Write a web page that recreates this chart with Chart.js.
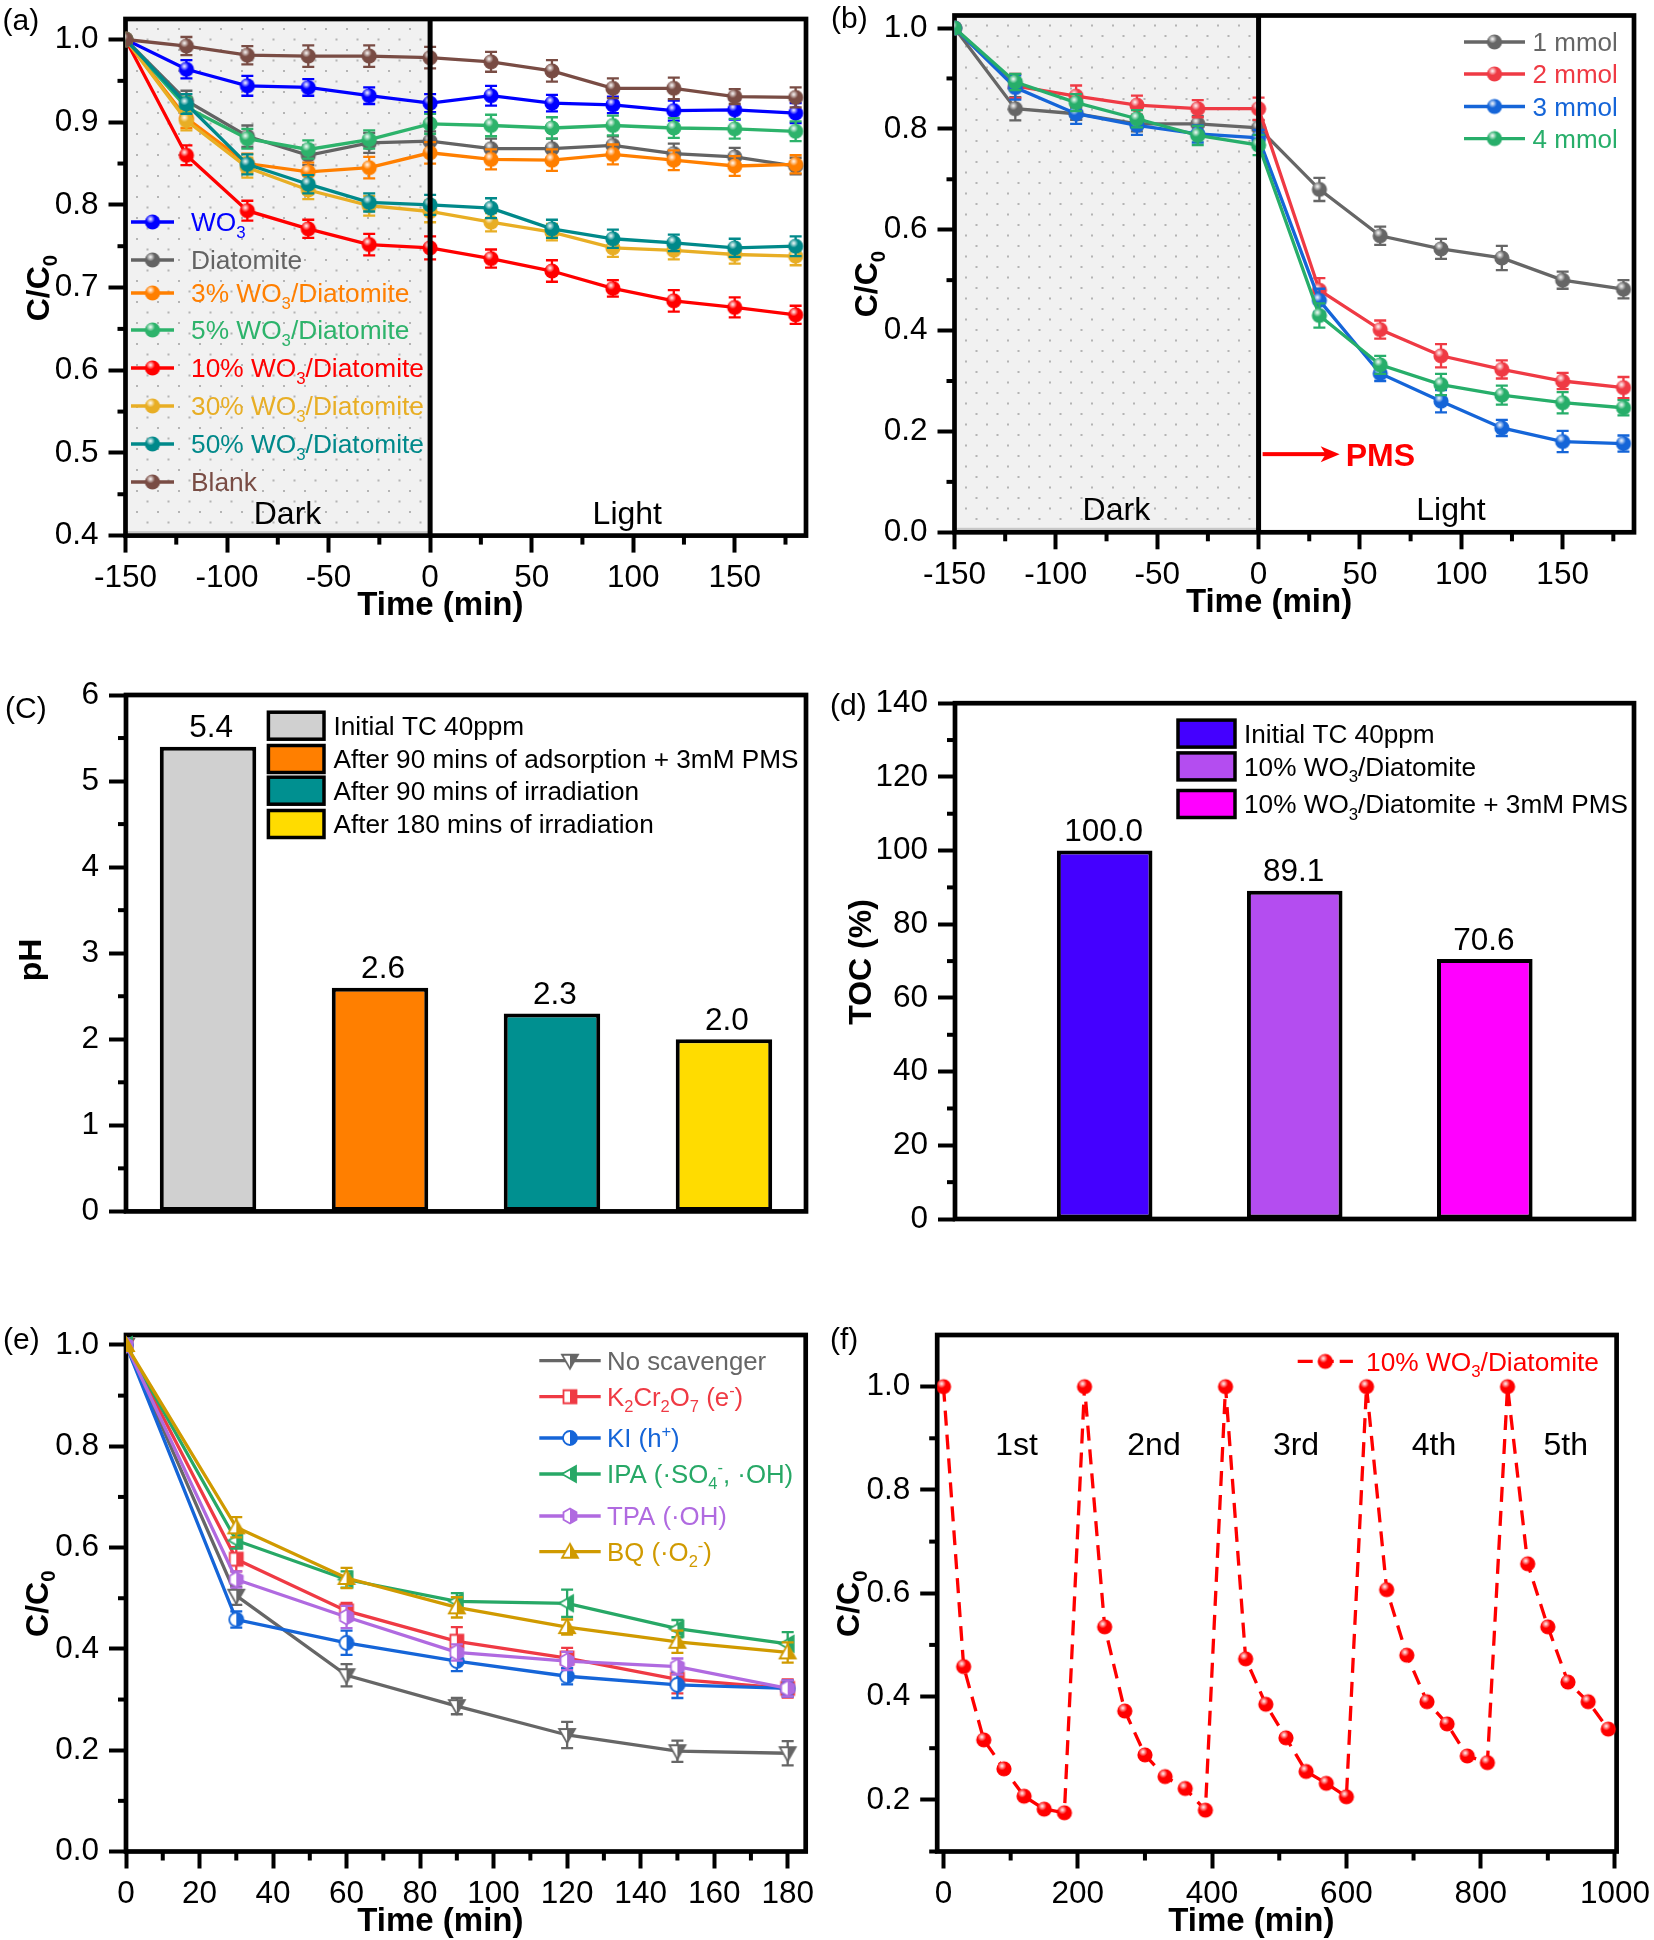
<!DOCTYPE html>
<html lang="en">

<head>
  <meta charset="UTF-8">
  <title>WO3/Diatomite degradation</title>
  <script src="https://cdn.jsdelivr.net/npm/chart.js@4"></script>
  <style>
    html, body { margin: 0; padding: 0; background: #fff; overflow: hidden; width: 1654px; height: 1940px; }
    canvas { position: absolute; display: block; }
  </style>
</head>

<body>
  <canvas id="chartA"></canvas>
  <canvas id="chartB"></canvas>
  <canvas id="chartC"></canvas>
  <canvas id="chartD"></canvas>
  <canvas id="chartE"></canvas>
  <canvas id="chartF"></canvas>

  <script>
    // ---- data ----
    const timeAB = [-150, -120, -90, -60, -30, 0, 30, 60, 90, 120, 150, 180];
    const timeE = [0, 30, 60, 90, 120, 150, 180];
    const timeF = [0, 30, 60, 90, 120, 150, 180, 210, 240, 270, 300, 330, 360, 390, 420, 450, 480, 510, 540, 570, 600, 630, 660, 690, 720, 750, 780, 810, 840, 870, 900, 930, 960, 990];

    const namesA = ['WO_{3}', 'Diatomite', '3% WO_{3}/Diatomite', '5% WO_{3}/Diatomite', '10% WO_{3}/Diatomite', '30% WO_{3}/Diatomite', '50% WO_{3}/Diatomite', 'Blank'];
    const colorsA = ['#0000ff', '#636363', '#ff7f00', '#2db36b', '#ff0000', '#e8ae25', '#00898a', '#794c44'];
    const wo3 = [1.0, .964, .944, .942, .932, .923, .932, .923, .921, .914, .915, .911];
    const diatomite = [1.0, .926, .883, .860, .875, .877, .868, .868, .872, .862, .858, .847];
    const wo3_3 = [1.0, .905, .850, .840, .845, .863, .855, .854, .861, .854, .847, .849];
    const wo3_5 = [1.0, .918, .880, .867, .879, .898, .896, .893, .896, .893, .892, .889];
    const wo3_10 = [1.0, .860, .793, .771, .752, .748, .735, .720, .699, .684, .676, .667];
    const wo3_30 = [1.0, .902, .845, .818, .799, .792, .779, .767, .748, .745, .740, .738];
    const wo3_50 = [1.0, .922, .849, .825, .803, .800, .796, .771, .759, .754, .748, .750];
    const blank = [1.0, .992, .981, .980, .980, .978, .973, .962, .941, .941, .931, .930];
    const errWo3 = [0, .011, .012, .010, .010, .011, .012, .010, .010, .012, .012, .012];
    const errDia = [0, .012, .013, .012, .012, .012, .012, .012, .011, .012, .011, .010];
    const err3 = [0, .012, .012, .011, .013, .013, .012, .013, .012, .012, .012, .011];
    const err5 = [0, .012, .012, .011, .011, .012, .013, .013, .012, .012, .012, .012];
    const err10 = [0, .012, .012, .011, .013, .014, .011, .013, .010, .013, .012, .011];
    const err30 = [0, .012, .012, .011, .012, .013, .011, .010, .011, .011, .011, .011];
    const err50 = [0, .012, .012, .011, .011, .012, .012, .011, .011, .010, .011, .012];
    const errBlank = [0, .011, .011, .013, .013, .013, .012, .013, .012, .013, .009, .012];

    const namesB = ['1 mmol', '2 mmol', '3 mmol', '4 mmol'];
    const colorsB = ['#666666', '#ef3a44', '#1565d8', '#27ae6a'];
    const mmol1 = [1.0, .840, .830, .810, .810, .802, .680, .588, .562, .544, .500, .482];
    const mmol2 = [1.0, .885, .865, .847, .840, .840, .480, .402, .350, .323, .300, .287];
    const mmol3 = [1.0, .882, .830, .807, .790, .782, .460, .315, .260, .207, .180, .176];
    const mmol4 = [1.0, .893, .852, .820, .787, .768, .430, .332, .293, .272, .257, .247];
    const errM1 = [0, .023, .012, .015, .015, .015, .023, .018, .020, .024, .017, .018];
    const errM2 = [0, .024, .021, .019, .017, .022, .024, .018, .023, .018, .016, .021];
    const errM3 = [0, .024, .020, .019, .017, .016, .023, .015, .022, .016, .021, .016];
    const errM4 = [0, .016, .017, .017, .019, .020, .024, .018, .021, .019, .021, .015];

    const namesC = ['Initial TC 40ppm', 'After 90 mins of adsorption + 3mM PMS', 'After 90 mins of irradiation', 'After 180 mins of irradiation'];
    const colorsC = ['#d0d0d0', '#ff7f00', '#009090', '#ffdc00'];
    const phValues = [5.4, 2.6, 2.3, 2.0];

    const namesD = ['Initial TC 40ppm', '10% WO_{3}/Diatomite', '10% WO_{3}/Diatomite + 3mM PMS'];
    const colorsD = ['#4400ff', '#b44df0', '#ff00ff'];
    const tocValues = [100.0, 89.1, 70.6];

    const namesE = ['No scavenger', 'K_{2}Cr_{2}O_{7} (e^{-})', 'KI (h^{+})', 'IPA (·SO_{4}^{-}, ·OH)', 'TPA (·OH)', 'BQ (·O_{2}^{-})'];
    const colorsE = ['#666666', '#ef3a44', '#1565d8', '#27a866', '#b06ae0', '#d09a00'];
    const shapesE = ['down', 'square', 'circle', 'left', 'hexagon', 'up'];
    const noScav = [1.0, .505, .348, .287, .230, .198, .194];
    const k2cr2o7 = [1.0, .577, .475, .415, .382, .340, .322];
    const ki = [1.0, .458, .412, .376, .346, .329, .322];
    const ipa = [1.0, .614, .537, .494, .490, .440, .410];
    const tpa = [1.0, .537, .463, .393, .376, .365, .322];
    const bq = [1.0, .640, .540, .482, .443, .414, .393];
    const errNo = [0, .018, .022, .016, .026, .021, .024];
    const errK = [0, .024, .016, .028, .020, .028, .018];
    const errKi = [0, .016, .024, .020, .016, .026, .016];
    const errIpa = [0, .016, .016, .016, .027, .017, .023];
    const errTpa = [0, .016, .022, .016, .018, .016, .016];
    const errBq = [0, .020, .020, .020, .015, .022, .020];

    const nameF = '10% WO_{3}/Diatomite';
    const colorF = '#ff0000';
    const cycles = [1.0, .458, .316, .260, .207, .182, .175, 1.0, .535, .372, .287, .245, .222, .180, 1.0, .473, .385, .320, .255, .232, .206, 1.0, .607, .480, .390, .347, .285, .272, 1.0, .657, .535, .428, .390, .337];
    const cycleNames = ['1st', '2nd', '3rd', '4th', '5th'];

    const xTicksAB = [-150, -100, -50, 0, 50, 100, 150];
    const xMinorAB = [-125, -75, -25, 25, 75, 125, 175];
    const yTicksA = [.4, .5, .6, .7, .8, .9, 1.0];
    const yMinorA = [.45, .55, .65, .75, .85, .95];
    const yTicksC = [.0, .2, .4, .6, .8, 1.0];
    const yMinorC = [.1, .3, .5, .7, .9];
    const phTicks = [0, 1, 2, 3, 4, 5, 6];
    const phMinor = [.5, 1.5, 2.5, 3.5, 4.5, 5.5];
    const tocTicks = [0, 20, 40, 60, 80, 100, 120, 140];
    const tocMinor = [10, 30, 50, 70, 90, 110, 130];
    const xTicksE = [0, 20, 40, 60, 80, 100, 120, 140, 160, 180];
    const xMinorE = [10, 30, 50, 70, 90, 110, 130, 150, 170];
    const xTicksF = [0, 200, 400, 600, 800, 1000];
    const xMinorF = [100, 300, 500, 700, 900];
    const yTicksF = [.2, .4, .6, .8, 1.0];
    const yMinorF = [.1, .3, .5, .7, .9];

    // ---- drawing helpers ----
    const FONT = '"Liberation Sans", Arial, sans-serif';

    function fontOf(size, bold) {
      return (bold ? 'bold ' : '') + size + 'px ' + FONT;
    }

    // splits "WO_{3}" into plain / sub / sup runs
    function parseRuns(str) {
      const runs = [];
      const re = /([_^])\{([^}]*)\}/g;
      let last = 0, m;
      while ((m = re.exec(str))) {
        if (m.index > last) runs.push({ t: str.slice(last, m.index), k: '' });
        runs.push({ t: m[2], k: m[1] });
        last = re.lastIndex;
      }
      if (last < str.length) runs.push({ t: str.slice(last), k: '' });
      return runs;
    }

    function richWidth(ctx, str, size, bold) {
      let w = 0;
      parseRuns(str).forEach(r => {
        ctx.font = fontOf(r.k ? size * .64 : size, bold);
        w += ctx.measureText(r.t).width;
      });
      return w;
    }

    // x is the left edge, y the vertical middle of the text
    function richText(ctx, str, x, y, size, color, bold) {
      ctx.save();
      ctx.fillStyle = color;
      ctx.textAlign = 'left';
      ctx.textBaseline = 'alphabetic';
      const base = y + size * .36;
      parseRuns(str).forEach(r => {
        ctx.font = fontOf(r.k ? size * .64 : size, bold);
        let dy = 0;
        if (r.k === '_') dy = size * .24;
        if (r.k === '^') dy = -size * .38;
        ctx.fillText(r.t, x, base + dy);
        x += ctx.measureText(r.t).width;
      });
      ctx.restore();
    }

    function centerText(ctx, str, cx, cy, size, color, bold) {
      richText(ctx, str, cx - richWidth(ctx, str, size, bold) / 2, cy, size, color, bold);
    }

    function rotatedText(ctx, str, cx, cy, size, bold) {
      ctx.save();
      ctx.translate(cx, cy);
      ctx.rotate(-Math.PI / 2);
      centerText(ctx, str, 0, 0, size, '#000', bold);
      ctx.restore();
    }

    function ball(color) {
      const c = document.createElement('canvas');
      c.width = c.height = 18;
      const g = c.getContext('2d');
      g.beginPath();
      g.arc(9, 9, 7.6, 0, Math.PI * 2);
      g.fillStyle = color;
      g.fill();
      const hi = g.createRadialGradient(7, 6, .4, 7, 6, 4.4);
      hi.addColorStop(0, 'rgba(255,255,255,.9)');
      hi.addColorStop(1, 'rgba(255,255,255,0)');
      g.fillStyle = hi;
      g.fill();
      return c;
    }

    function halfMark(shape, color) {
      const c = document.createElement('canvas');
      c.width = c.height = 24;
      const g = c.getContext('2d');
      const m = 12;
      g.beginPath();
      if (shape === 'square') g.rect(m - 6.5, m - 6.5, 13, 13);
      if (shape === 'circle') g.arc(m, m, 7, 0, Math.PI * 2);
      if (shape === 'down') { g.moveTo(m - 8, m - 6); g.lineTo(m + 8, m - 6); g.lineTo(m, m + 8); g.closePath(); }
      if (shape === 'up') { g.moveTo(m - 8, m + 6); g.lineTo(m + 8, m + 6); g.lineTo(m, m - 8); g.closePath(); }
      if (shape === 'left') { g.moveTo(m - 8, m); g.lineTo(m + 6, m - 8); g.lineTo(m + 6, m + 8); g.closePath(); }
      if (shape === 'hexagon') {
        g.moveTo(m, m - 7.5); g.lineTo(m + 6.5, m - 3.8); g.lineTo(m + 6.5, m + 3.8);
        g.lineTo(m, m + 7.5); g.lineTo(m - 6.5, m + 3.8); g.lineTo(m - 6.5, m - 3.8); g.closePath();
      }
      g.fillStyle = '#fff';
      g.fill();
      g.save();
      g.clip();
      g.fillStyle = color;
      g.fillRect(m, 0, m, 24);
      g.restore();
      g.strokeStyle = color;
      g.lineWidth = 1.8;
      g.stroke();
      return c;
    }

    // Chart.js paints the first dataset last, the figure is the other way round
    function lineSet(xs, ys, errs, color, marker, index, dash) {
      return {
        data: xs.map((x, i) => ({ x: x, y: ys[i] })),
        errs: errs,
        order: 20 - index,
        borderColor: color,
        backgroundColor: color,
        borderWidth: 3.3,
        borderDash: dash || [],
        pointStyle: marker,
        pointRadius: 8,
        tension: 0
      };
    }

    // everything Chart.js has no option for: frame, minor ticks, error bars, legends, labels
    function decorPlugin(p) {
      return {
        id: 'decor',
        beforeDatasetsDraw(chart) {
          const ctx = chart.ctx, a = chart.chartArea, x = chart.scales.x, y = chart.scales.y;
          if (p.darkTo !== undefined) {
            const xr = x.getPixelForValue(p.darkTo);
            ctx.fillStyle = '#f1f1f1';
            ctx.fillRect(a.left, a.top, xr - a.left, a.bottom - a.top);
            ctx.fillStyle = '#b4b4b4';
            let row = 0;
            for (let py = a.top + 9; py < a.bottom - 5; py += 10.5) {
              for (let px = a.left + (row % 2 ? 21 : 10.5); px < xr - 3; px += 21) {
                ctx.fillRect(px, py, 2, 2);
              }
              row++;
            }
            ctx.fillStyle = '#c8c8c8';
            ctx.fillRect(a.left, a.bottom - 4.5, xr - a.left, 2);
          }
          ctx.fillStyle = '#000';
          (p.xMinor || []).forEach(v => {
            ctx.fillRect(x.getPixelForValue(v) - 2, a.bottom, 4, 9);
          });
          (p.yMinor || []).forEach(v => {
            ctx.fillRect(a.left - 8, y.getPixelForValue(v) - 2, 8, 4);
          });
          ctx.strokeStyle = '#000';
          ctx.lineWidth = 4.7;
          ctx.strokeRect(a.left, a.top, a.right - a.left, a.bottom - a.top);
        },
        beforeDatasetDraw(chart, args) {
          const ds = chart.data.datasets[args.index];
          if (!ds.errs) return;
          const ctx = chart.ctx, x = chart.scales.x, y = chart.scales.y;
          ctx.save();
          ctx.strokeStyle = ds.borderColor;
          ctx.lineWidth = 2.3;
          ds.data.forEach((pt, i) => {
            if (!ds.errs[i]) return;
            const px = x.getPixelForValue(pt.x);
            const hi = y.getPixelForValue(pt.y + ds.errs[i]);
            const lo = y.getPixelForValue(pt.y - ds.errs[i]);
            ctx.beginPath();
            ctx.moveTo(px, hi); ctx.lineTo(px, lo);
            ctx.moveTo(px - 6, hi); ctx.lineTo(px + 6, hi);
            ctx.moveTo(px - 6, lo); ctx.lineTo(px + 6, lo);
            ctx.stroke();
          });
          ctx.restore();
        },
        afterDatasetsDraw(chart) {
          const ctx = chart.ctx, a = chart.chartArea, x = chart.scales.x, y = chart.scales.y;
          const ox = p.box.x, oy = p.box.y;
          if (p.darkTo !== undefined) {
            ctx.fillStyle = '#000';
            ctx.fillRect(x.getPixelForValue(p.darkTo) - 2.5, a.top, 5, a.bottom - a.top);
          }
          if (p.barLabels) {
            p.barLabels.forEach((v, i) => {
              ctx.font = fontOf(31.5);
              ctx.fillStyle = '#000';
              ctx.textAlign = 'center';
              ctx.textBaseline = 'middle';
              ctx.fillText(v.toFixed(1), x.getPixelForValue(i + 1) + p.barShift, y.getPixelForValue(v) - 18);
            });
          }
          if (p.arrow) {
            const ax0 = x.getPixelForValue(p.arrow.from), ax1 = x.getPixelForValue(p.arrow.to), ay = y.getPixelForValue(p.arrow.y);
            ctx.fillStyle = '#ff0000';
            ctx.fillRect(ax0, ay - 2, ax1 - ax0 - 12, 4);
            ctx.beginPath();
            ctx.moveTo(ax1, ay); ctx.lineTo(ax1 - 19, ay - 8); ctx.lineTo(ax1 - 14, ay); ctx.lineTo(ax1 - 19, ay + 8);
            ctx.closePath();
            ctx.fill();
            richText(ctx, 'PMS', ax1 + 6, ay, 32, '#ff0000', true);
          }
          (p.texts || []).forEach(t => {
            centerText(ctx, t.s, t.x - ox, t.y - oy, t.size || 32, t.color || '#000', t.bold);
          });
          if (p.xTitle) centerText(ctx, p.xTitle.s, p.xTitle.x - ox, p.xTitle.y - oy, 33, '#000', true);
          rotatedText(ctx, p.yTitle.s, p.yTitle.x - ox, p.yTitle.y - oy, 32, true);
          richText(ctx, p.letter.s, p.letter.x - ox, p.letter.y - oy, 30, '#000');
          if (p.legend) {
            const L = p.legend;
            L.names.forEach((n, i) => {
              const ly = L.rows[i] - oy;
              ctx.save();
              ctx.strokeStyle = L.colors[i];
              ctx.lineWidth = 3.3;
              if (L.dash) ctx.setLineDash(L.dash);
              ctx.beginPath();
              ctx.moveTo(L.x0 - ox, ly);
              ctx.lineTo(L.x1 - ox, ly);
              ctx.stroke();
              ctx.restore();
              const im = L.marks[i];
              ctx.drawImage(im, (L.x0 + L.x1) / 2 - ox - im.width / 2, ly - im.height / 2);
              richText(ctx, n, L.tx - ox, ly, L.size, L.colors[i]);
            });
          }
          if (p.swatches) {
            const S = p.swatches;
            S.names.forEach((n, i) => {
              ctx.fillStyle = S.colors[i];
              ctx.fillRect(S.x - ox, S.rows[i] - oy - 13.5, S.w, 27);
              ctx.strokeStyle = '#000';
              ctx.lineWidth = 3.5;
              ctx.strokeRect(S.x - ox, S.rows[i] - oy - 13.5, S.w, 27);
              richText(ctx, n, S.tx - ox, S.rows[i] - oy, S.size, '#000');
            });
          }
        }
      };
    }

    function makePanel(id, p) {
      const cv = document.getElementById(id);
      cv.width = p.box.w;
      cv.height = p.box.h;
      cv.style.left = p.box.x + 'px';
      cv.style.top = p.box.y + 'px';
      const fmtY = p.yFmt;
      return new Chart(cv, {
        type: p.type || 'line',
        data: { datasets: p.datasets },
        plugins: [decorPlugin(p)],
        options: {
          responsive: false,
          animation: false,
          devicePixelRatio: 1,
          layout: {
            padding: {
              top: p.plot.t - p.box.y,
              right: p.box.x + p.box.w - p.plot.r,
              left: 0,
              bottom: 0
            }
          },
          plugins: { legend: { display: false }, tooltip: { enabled: false } },
          scales: {
            x: {
              type: 'linear',
              min: p.xMin,
              max: p.xMax,
              afterBuildTicks: ax => { ax.ticks = p.xTicks.map(v => ({ value: v })); },
              afterFit: ax => { ax.height = p.box.y + p.box.h - p.plot.b; },
              border: { display: false },
              grid: { drawOnChartArea: false, tickLength: 17, tickWidth: 4, tickColor: '#000' },
              ticks: {
                color: '#000',
                font: { family: FONT, size: 31.5 },
                padding: 7,
                maxRotation: 0,
                autoSkip: false,
                callback: v => String(v)
              }
            },
            y: {
              min: p.yMin,
              max: p.yMax,
              afterBuildTicks: ax => { ax.ticks = p.yTicks.map(v => ({ value: v })); },
              afterFit: ax => { ax.width = p.plot.l - p.box.x; },
              border: { display: false },
              grid: { drawOnChartArea: false, tickLength: 17, tickWidth: 4, tickColor: '#000' },
              ticks: {
                color: '#000',
                font: { family: FONT, size: 31.5 },
                padding: 10,
                autoSkip: false,
                callback: v => v.toFixed(fmtY)
              }
            }
          }
        }
      });
    }

    function barSet(values, colors, pct) {
      return [{
        data: values.map((v, i) => ({ x: i + 1, y: v })),
        backgroundColor: colors,
        borderColor: '#000',
        borderWidth: 4,
        borderSkipped: false,
        barPercentage: pct,
        categoryPercentage: 1
      }];
    }

    // ---- the six panels ----
    const seriesA = [wo3, diatomite, wo3_3, wo3_5, wo3_10, wo3_30, wo3_50, blank];
    const errsA = [errWo3, errDia, err3, err5, err10, err30, err50, errBlank];
    const ballsA = colorsA.map(ball);
    makePanel('chartA', {
      box: { x: 0, y: -40, w: 830, h: 690 },
      plot: { l: 125.5, t: 19, r: 806, b: 535.6 },
      datasets: seriesA.map((s, i) => lineSet(timeAB, s, errsA[i], colorsA[i], ballsA[i], i)),
      xMin: -150, xMax: 185.1, yMin: .4, yMax: 1.0248, yFmt: 1,
      xTicks: xTicksAB, xMinor: xMinorAB, yTicks: yTicksA, yMinor: yMinorA,
      darkTo: 0,
      texts: [{ s: 'Dark', x: 287.5, y: 512 }, { s: 'Light', x: 627.3, y: 512 }],
      xTitle: { s: 'Time (min)', x: 440.4, y: 603.6 },
      yTitle: { s: 'C/C_{0}', x: 37.5, y: 288 },
      letter: { s: '(a)', x: 2.6, y: 19 },
      legend: { names: namesA, colors: colorsA, marks: ballsA, x0: 131, x1: 174, tx: 191, size: 26.3, rows: [222, 260, 293, 330, 368, 406, 444, 482] }
    });

    const seriesB = [mmol1, mmol2, mmol3, mmol4];
    const errsB = [errM1, errM2, errM3, errM4];
    const ballsB = colorsB.map(ball);
    makePanel('chartB', {
      box: { x: 830, y: -40, w: 824, h: 690 },
      plot: { l: 954.5, t: 15.5, r: 1634, b: 532.3 },
      datasets: seriesB.map((s, i) => lineSet(timeAB, s, errsB[i], colorsB[i], ballsB[i], i)),
      xMin: -150, xMax: 185.2, yMin: 0, yMax: 1.0248, yFmt: 1,
      xTicks: xTicksAB, xMinor: xMinorAB, yTicks: yTicksC, yMinor: yMinorC,
      darkTo: 0,
      arrow: { from: 2, to: 40, y: .155 },
      texts: [{ s: 'Dark', x: 1116.4, y: 508 }, { s: 'Light', x: 1451, y: 508 }],
      xTitle: { s: 'Time (min)', x: 1269, y: 600.6 },
      yTitle: { s: 'C/C_{0}', x: 865.8, y: 284 },
      letter: { s: '(b)', x: 831, y: 17 },
      legend: { names: namesB, colors: colorsB, marks: ballsB, x0: 1464, x1: 1525, tx: 1532.6, size: 26, rows: [42, 74, 106.5, 138.6] }
    });

    makePanel('chartC', {
      type: 'bar',
      box: { x: 0, y: 650, w: 830, h: 620 },
      plot: { l: 126, t: 695, r: 806, b: 1211.4 },
      datasets: barSet(phValues, colorsC, .561),
      xMin: .523, xMax: 4.477, yMin: 0, yMax: 6, yFmt: 0,
      xTicks: [], yTicks: phTicks, yMinor: phMinor,
      barLabels: phValues, barShift: 3,
      yTitle: { s: 'pH', x: 29.8, y: 960 },
      letter: { s: '(C)', x: 5, y: 706.8 },
      swatches: { names: namesC, colors: colorsC, x: 268.4, w: 55.6, tx: 333.5, size: 26.2, rows: [725.7, 759, 790.7, 824] }
    });

    makePanel('chartD', {
      type: 'bar',
      box: { x: 830, y: 650, w: 824, h: 620 },
      plot: { l: 955, t: 703.2, r: 1634, b: 1219 },
      datasets: barSet(tocValues, colorsD, .503),
      xMin: .2126, xMax: 3.785, yMin: 0, yMax: 140, yFmt: 0,
      xTicks: [], yTicks: tocTicks, yMinor: tocMinor,
      barLabels: tocValues, barShift: -1,
      yTitle: { s: 'TOC (%)', x: 859.5, y: 962 },
      letter: { s: '(d)', x: 830, y: 704 },
      swatches: { names: namesD, colors: colorsD, x: 1178, w: 57, tx: 1244, size: 26.2, rows: [733.6, 766.4, 804] }
    });

    const seriesE = [noScav, k2cr2o7, ki, ipa, tpa, bq];
    const errsE = [errNo, errK, errKi, errIpa, errTpa, errBq];
    const marksE = shapesE.map((s, i) => halfMark(s, colorsE[i]));
    makePanel('chartE', {
      box: { x: 0, y: 1290, w: 830, h: 650 },
      plot: { l: 126, t: 1335, r: 805.7, b: 1851.5 },
      datasets: seriesE.map((s, i) => lineSet(timeE, s, errsE[i], colorsE[i], marksE[i], i)),
      xMin: 0, xMax: 184.9, yMin: 0, yMax: 1.0197, yFmt: 1,
      xTicks: xTicksE, xMinor: xMinorE, yTicks: yTicksC, yMinor: yMinorC,
      xTitle: { s: 'Time (min)', x: 440.4, y: 1919.5 },
      yTitle: { s: 'C/C_{0}', x: 36, y: 1603.7 },
      letter: { s: '(e)', x: 3, y: 1338 },
      legend: { names: namesE, colors: colorsE, marks: marksE, x0: 539.3, x1: 600.7, tx: 607, size: 25.8, rows: [1360.7, 1396.7, 1438, 1474, 1516, 1551.7] }
    });

    const ballF = ball(colorF);
    makePanel('chartF', {
      box: { x: 830, y: 1290, w: 860, h: 650 },
      plot: { l: 937.2, t: 1335, r: 1616.6, b: 1851.5 },
      datasets: [lineSet(timeF, cycles, null, colorF, ballF, 0, [15, 9])],
      xMin: -9.4, xMax: 1002.4, yMin: .1, yMax: 1.1, yFmt: 1,
      xTicks: xTicksF, xMinor: xMinorF, yTicks: yTicksF, yMinor: yMinorF,
      texts: cycleNames.map((s, i) => ({ s: s, x: [1016.5, 1154, 1296, 1434, 1565.7][i], y: 1443.4, size: 32 })),
      xTitle: { s: 'Time (min)', x: 1251.4, y: 1919.5 },
      yTitle: { s: 'C/C_{0}', x: 847.5, y: 1603.7 },
      letter: { s: '(f)', x: 830, y: 1338 },
      legend: { names: [nameF], colors: [colorF], marks: [ballF], dash: [15, 6], x0: 1297.7, x1: 1352.9, tx: 1366, size: 26.3, rows: [1361.4] }
    });
  </script>
</body>

</html>
